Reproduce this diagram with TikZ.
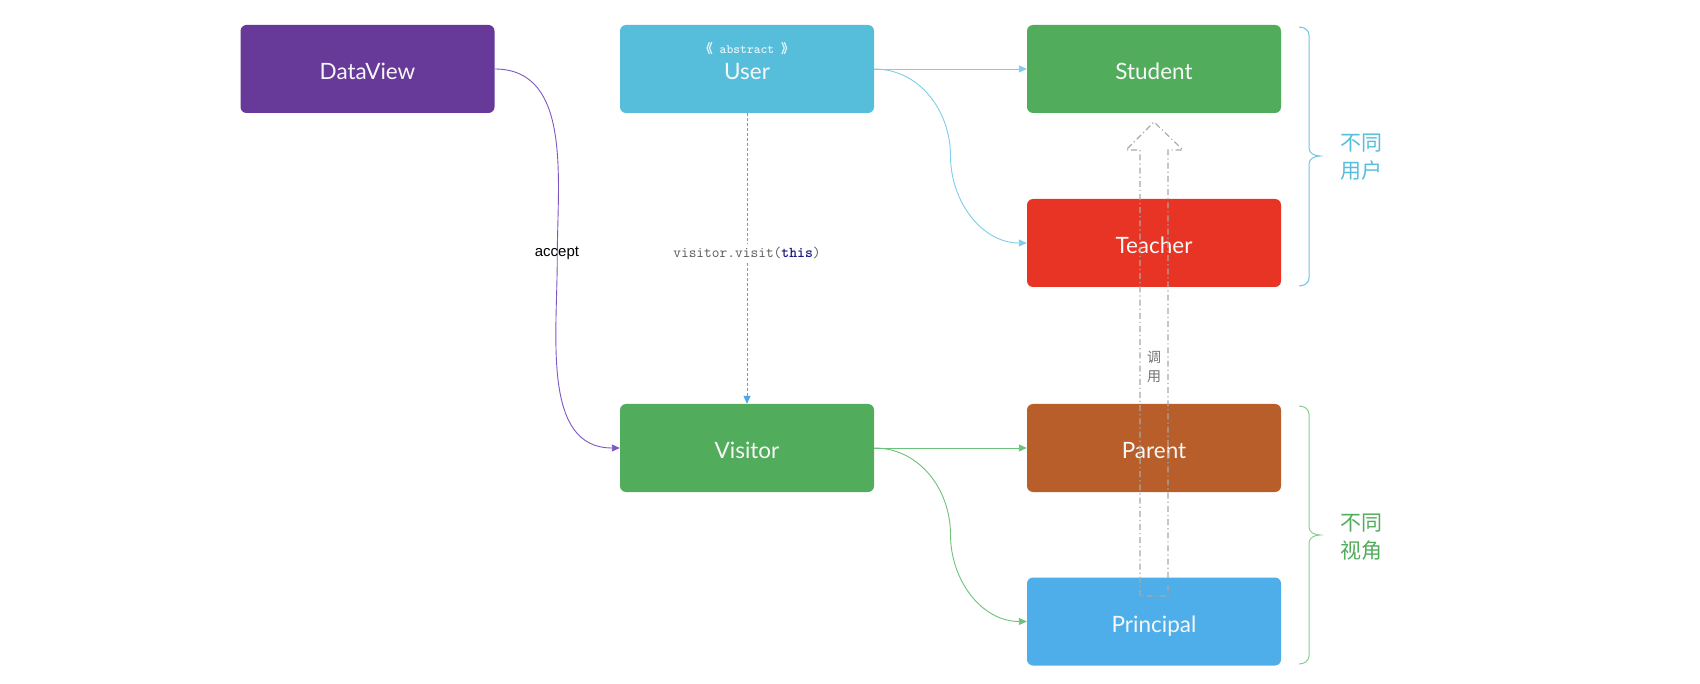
\documentclass[tikz,border=0pt]{standalone}
\usepackage{fontspec}
\setmainfont{Lato}
\newfontfamily\cjk{Noto Sans CJK SC}
\newfontfamily\plainsans{Liberation Sans}
\usetikzlibrary{arrows.meta,calc}

\definecolor{cPurple}{HTML}{673999}
\definecolor{cCyan}{HTML}{56BEDB}
\definecolor{cGreen}{HTML}{51AD5C}
\definecolor{cRed}{HTML}{E83424}
\definecolor{cBrown}{HTML}{B75E2A}
\definecolor{cSky}{HTML}{4DAEEA}
\definecolor{cUserLine}{HTML}{7FCDE8}
\definecolor{cViewLine}{HTML}{6CC27A}
\definecolor{cAccept}{HTML}{7E57C2}
\definecolor{cDash}{HTML}{4DA6E8}
\definecolor{cBraceBlue}{HTML}{6CC4E8}
\definecolor{cBraceGreen}{HTML}{86CF8E}
\definecolor{cCall}{HTML}{A8A8A8}
\definecolor{cNavy}{HTML}{1A1A80}

\tikzset{
  boxtext/.style={text=white!94!gray, font=\fontsize{22.5}{26}\selectfont,
    text height=21pt, text depth=0pt},
  box/.style={boxtext, rounded corners=6pt, minimum width=254pt, minimum height=88pt,
    inner sep=0pt},
  conn/.style={line width=0.9pt, -{Triangle[length=8pt,width=7pt]}},
  bracepath/.style={line width=1pt},
  callarrow/.style={draw=cCall, line width=1.1pt,
    dash pattern=on 6pt off 3pt on 1.2pt off 3pt},
}

\begin{document}
\begin{tikzpicture}[x=1pt,y=-1pt]
\useasboundingbox (0,0) rectangle (1700,684);
\fill[white] (0,0) rectangle (1700,684);

% boxes
\node[box, fill=cPurple] (dataview) at (367.5,69) {DataView};
\node[box, fill=cCyan] (user) at (747,69) {};
\node[boxtext, inner sep=0pt] (userlabel) at (747,69) {User};
\node[text=white!82!cCyan, font=\ttfamily\bfseries\fontsize{13}{15}\selectfont] (abstract) at (747,49)
  {{\cjk 《} abstract {\cjk 》}};
\node[box, fill=cGreen] (student) at (1154,69) {Student};
\node[box, fill=cRed] (teacher) at (1154,243) {Teacher};
\node[box, fill=cGreen] (visitor) at (747,448) {Visitor};
\node[box, fill=cBrown] (parent) at (1154,448) {Parent};
\node[box, fill=cSky] (principal) at (1154,621.5) {Principal};

% user side
\draw[conn, cUserLine] (user.east) -- (student.west);
\draw[conn, cUserLine] (user.east) to[out=0,in=90]
  ($(user.east)!0.5!(teacher.west)$) to[out=-90,in=180] (teacher.west);

% visitor side
\draw[conn, cViewLine] (visitor.east) -- (parent.west);
\draw[conn, cViewLine] (visitor.east) to[out=0,in=90]
  ($(visitor.east)!0.5!(principal.west)$) to[out=-90,in=180] (principal.west);

% accept
\draw[conn, cAccept] (dataview.east) to[out=0,in=90]
  ($(dataview.east)!0.5!(visitor.west)$) to[out=-90,in=180] (visitor.west);
\node[font=\plainsans\fontsize{15}{18}\selectfont, text=black] (accept) at (557,253) {accept};

% visit call
\draw[conn, cDash, dash pattern=on 3pt off 2pt] (user.south) --
  node[pos=0.48, fill=white, inner sep=3pt, font=\ttfamily\fontsize{15}{18}\selectfont, text=black!65]
  (visitcall) {visitor.visit({\bfseries\color{cNavy}this})} (visitor.north);

% braces
\draw[bracepath, cBraceBlue] (1299,27) to[out=0,in=90] (1309,35) -- (1309,148)
  to[out=-90,in=180] (1320,156) to[out=180,in=90] (1309,164) -- (1309,278)
  to[out=-90,in=0] (1299,286);
\node[font=\cjk\fontsize{21}{28}\selectfont, text=cCyan, align=left] (users) at (1361,157) {不同\\用户};
\draw[bracepath, cBraceGreen] (1299,406) to[out=0,in=90] (1309,414) -- (1309,527)
  to[out=-90,in=180] (1320,535) to[out=180,in=90] (1309,543) -- (1309,656)
  to[out=-90,in=0] (1299,664);
\node[font=\cjk\fontsize{21}{28}\selectfont, text=cGreen, align=left] (views) at (1361,537) {不同\\视角};

% hollow call arrow
\draw[callarrow] (1140,596) -- (1140,150) -- (1126,150) -- (1154,122) -- (1183,150)
  -- (1168,150) -- (1168,596) -- cycle;
\node[font=\cjk\fontsize{14}{19}\selectfont, text=black!55, align=center] (call) at (1154,367) {调\\用};
\end{tikzpicture}
\end{document}
